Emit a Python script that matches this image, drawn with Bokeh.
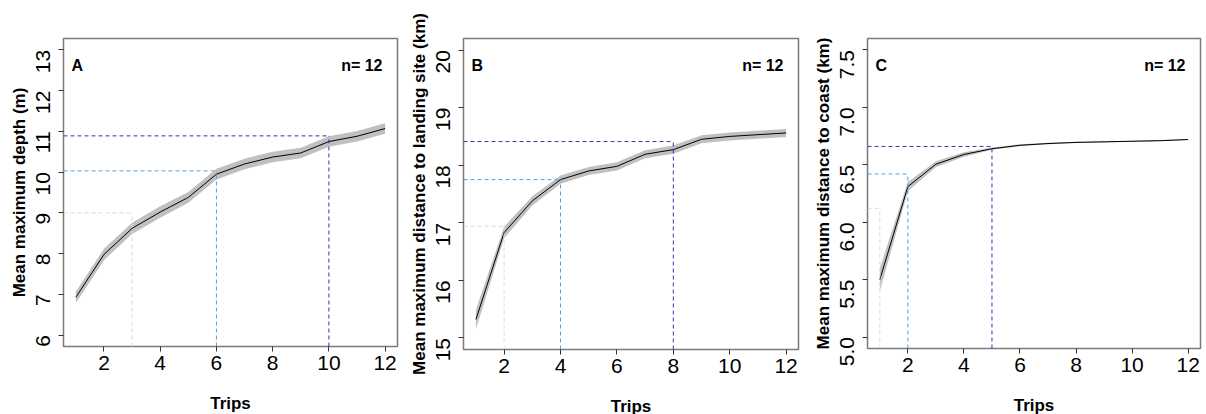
import math
from bokeh.plotting import figure
from bokeh.layouts import row
from bokeh.models import Range1d, FixedTicker, NumeralTickFormatter, Label, ColumnDataSource
from bokeh.embed import file_html
from bokeh.resources import INLINE

FONT = "Liberation Sans"

trips = [1, 2, 3, 4, 5, 6, 7, 8, 9, 10, 11, 12]
x_ticks = [2, 4, 6, 8, 10, 12]

# Panel A: mean maximum depth (m)
depth_mean = [6.93, 7.98, 8.62, 9.02, 9.38, 9.95, 10.20, 10.37, 10.47, 10.75, 10.88, 11.07]
depth_err = [0.14, 0.14, 0.14, 0.14, 0.13, 0.13, 0.13, 0.13, 0.13, 0.13, 0.13, 0.13]
depth_ref_trips = [3, 6, 10]
depth_ref_vals = [9.00, 10.03, 10.89]
depth_ticks = [6, 7, 8, 9, 10, 11, 12, 13]

# Panel B: mean maximum distance to landing site (km)
land_mean = [15.32, 16.83, 17.38, 17.75, 17.90, 17.98, 18.19, 18.27, 18.45, 18.50, 18.53, 18.56]
land_err = [0.17, 0.10, 0.08, 0.07, 0.07, 0.07, 0.07, 0.07, 0.07, 0.07, 0.07, 0.07]
land_ref_trips = [2, 4, 8]
land_ref_vals = [16.94, 17.75, 18.41]
land_ticks = [15, 16, 17, 18, 19, 20]

# Panel C: mean maximum distance to coast (km)
coast_mean = [5.50, 6.31, 6.505, 6.59, 6.64, 6.67, 6.685, 6.695, 6.70, 6.705, 6.71, 6.72]
coast_err = [0.10, 0.04, 0.025, 0.02, 0.01, 0.008, 0.006, 0.006, 0.005, 0.005, 0.005, 0.005]
coast_ref_trips = [1, 2, 5]
coast_ref_vals = [6.12, 6.42, 6.66]
coast_ticks = [5.0, 5.5, 6.0, 6.5, 7.0, 7.5]

ref_colors = ["#bfe3ef", "#5d9fd3", "#3434b4"]


def r_range(lo, hi):
    ext = (hi - lo) * 0.04
    return lo - ext, hi + ext


def panel(letter, ylabel, mean, err, ref_t, ref_v, yticks, ylim, fmt,
          fw, fh, bl, br, bt, bb):
    x0, x1 = r_range(1, 12)
    y0, y1 = r_range(*ylim)
    p = figure(frame_width=fw, frame_height=fh,
               min_border_left=bl, min_border_right=br,
               min_border_top=bt, min_border_bottom=bb,
               x_range=Range1d(x0, x1), y_range=Range1d(y0, y1),
               output_backend="svg", toolbar_location=None)
    p.grid.visible = False
    p.outline_line_color = "#7a7a7a"
    p.outline_line_width = 1.5
    p.background_fill_color = "white"
    p.border_fill_color = "white"

    lo = [m - e for m, e in zip(mean, err)]
    hi = [m + e for m, e in zip(mean, err)]
    p.varea(x=trips, y1=lo, y2=hi, fill_color="#c0c0c0")
    p.line(x=trips, y=mean, line_color="black", line_width=1)

    src = ColumnDataSource(dict(
        hx0=[x0] * len(ref_t), hx1=ref_t, hy=ref_v,
        vy0=[y0] * len(ref_t), col=ref_colors))
    p.segment(x0="hx0", y0="hy", x1="hx1", y1="hy", source=src,
              line_color="col", line_dash="4 3", line_width=1)
    p.segment(x0="hx1", y0="vy0", x1="hx1", y1="hy", source=src,
              line_color="col", line_dash="4 3", line_width=1)

    for ax in (p.xaxis[0], p.yaxis[0]):
        ax.axis_line_color = None
        ax.minor_tick_line_color = None
        ax.major_tick_in = 0
        ax.major_tick_out = 5
        ax.major_tick_line_color = "#333333"
        ax.major_label_text_font = FONT
        ax.major_label_text_font_size = "21px"
        ax.major_label_text_color = "black"
        ax.axis_label_text_font = FONT
        ax.axis_label_text_font_style = "bold"
        ax.axis_label_text_font_size = "17px"
        ax.axis_label_text_color = "black"

    p.xaxis.ticker = FixedTicker(ticks=x_ticks)
    p.xaxis.axis_label = "Trips"
    p.xaxis.major_label_standoff = 4
    p.xaxis.axis_label_standoff = 21

    p.yaxis.ticker = FixedTicker(ticks=yticks)
    p.yaxis.formatter = NumeralTickFormatter(format=fmt)
    p.yaxis.axis_label = ylabel
    p.yaxis.major_label_orientation = math.pi / 2
    p.yaxis.major_label_standoff = 15
    p.yaxis.axis_label_standoff = -2

    p.add_layout(Label(x=x0, y=y1, x_offset=8, y_offset=-27, text=letter,
                       text_font=FONT, text_font_style="bold",
                       text_font_size="16px", text_baseline="middle",
                       text_align="left", text_color="black"))
    p.add_layout(Label(x=x1, y=y1, x_offset=-15, y_offset=-27, text="n= 12",
                       text_font=FONT, text_font_style="bold",
                       text_font_size="16px", text_baseline="middle",
                       text_align="right", text_color="black"))
    return p


pa = panel("A", "Mean maximum depth (m)", depth_mean, depth_err,
           depth_ref_trips, depth_ref_vals, depth_ticks, (6, 13), "0",
           334, 308, 63, 6, 38, 66)
pb = panel("B", "Mean maximum distance to landing site (km)", land_mean, land_err,
           land_ref_trips, land_ref_vals, land_ticks, (15, 20), "0",
           335, 311, 60, 8, 34, 67)
pc = panel("C", "Mean maximum distance to coast (km)", coast_mean, coast_err,
           coast_ref_trips, coast_ref_vals, coast_ticks, (5, 7.5), "0.0",
           333, 310, 61, 4, 36, 66)

layout = row(pa, pb, pc)
open("out.html", "w").write(file_html(layout, INLINE))
